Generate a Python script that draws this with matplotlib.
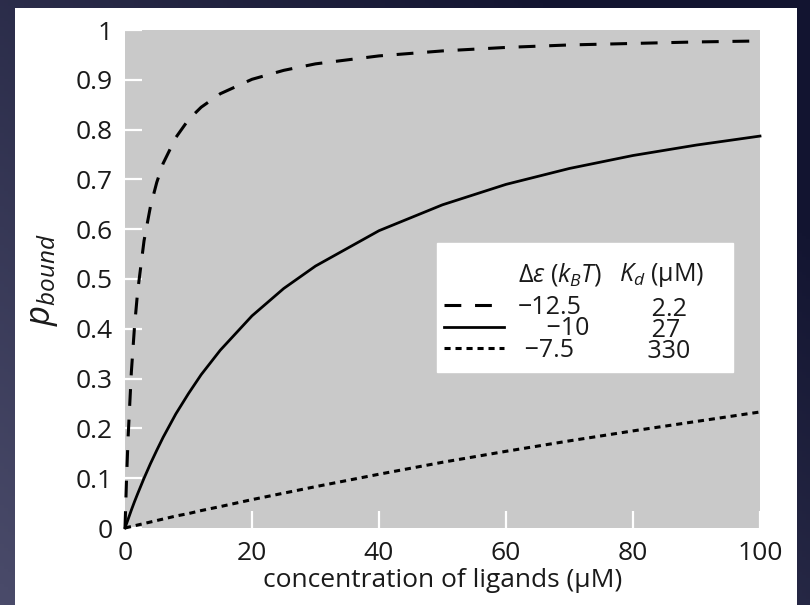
import numpy as np
import matplotlib
matplotlib.use("Agg")
import matplotlib.pyplot as plt
from matplotlib.lines import Line2D
from matplotlib.patches import Rectangle

conc = [0, 0.25, 0.5, 1, 1.5, 2, 3, 4, 5, 6, 8, 10, 12, 15, 20, 25, 30,
        40, 50, 60, 70, 80, 90, 100]
# p_bound for the three binding energies
p_strong = [0, 0.102, 0.185, 0.313, 0.405, 0.476, 0.577, 0.645, 0.694, 0.732,
            0.784, 0.820, 0.845, 0.872, 0.901, 0.919, 0.932, 0.948, 0.958,
            0.965, 0.970, 0.973, 0.976, 0.978]
p_mid = [0, 0.009, 0.018, 0.036, 0.053, 0.069, 0.100, 0.129, 0.156, 0.182,
         0.229, 0.270, 0.308, 0.357, 0.426, 0.481, 0.526, 0.597, 0.649,
         0.690, 0.722, 0.748, 0.769, 0.787]
p_weak = [0, 0.0008, 0.0015, 0.003, 0.0045, 0.006, 0.009, 0.012, 0.015,
          0.018, 0.024, 0.029, 0.035, 0.043, 0.057, 0.070, 0.083, 0.108,
          0.132, 0.154, 0.175, 0.195, 0.214, 0.233]

# legend table (figure/thin spaces roughly centre the columns)
de_header = r"$\Delta\varepsilon$ ($k_BT$)"
kd_header = r"$K_d$ (μM)"
de_vals = ["−12.5", "\u2007\u2007−10", "\u2008−7.5"]
kd_vals = ["\u2007\u2007\u20092.2", "\u2007\u2007\u200927", "\u2007\u2007330\u2007\u2007\u2008"]

xticks = [0, 20, 40, 60, 80, 100]
yticks = [0, 0.1, 0.2, 0.3, 0.4, 0.5, 0.6, 0.7, 0.8, 0.9, 1]
ytick_labels = ["0", "0.1", "0.2", "0.3", "0.4", "0.5", "0.6", "0.7", "0.8", "0.9", "1"]

plt.rcParams["font.family"] = ["Open Sans", "DejaVu Sans"]
plt.rcParams["mathtext.fontset"] = "custom"
plt.rcParams["mathtext.rm"] = "Open Sans"
plt.rcParams["mathtext.it"] = "Open Sans:italic"
plt.rcParams["mathtext.bf"] = "Open Sans:bold"

txt = "#1a1a1a"
fig = plt.figure(figsize=(8.1, 6.05), dpi=100)

# slide background with a dark gradient
bg = fig.add_axes([0, 0, 1, 1], zorder=-10)
gx, gy = np.meshgrid(np.linspace(0, 1, 200), np.linspace(0, 1, 200))
grad = np.clip(0.65 * gx + 0.55 * (1 - gy), 0, 1)
c_light = np.array([0x4a, 0x4b, 0x6a]) / 255
c_dark = np.array([0x12, 0x14, 0x30]) / 255
img = c_light[None, None, :] * (1 - grad[..., None]) + c_dark[None, None, :] * grad[..., None]
bg.imshow(img, aspect="auto", extent=[0, 1, 0, 1], origin="upper")
bg.axis("off")

# white card behind the chart
fig.patches.append(Rectangle((15 / 810, 0), 782 / 810, 597 / 605,
                             transform=fig.transFigure, facecolor="white",
                             edgecolor="none", zorder=-5))

ax = fig.add_axes([125 / 810, 77 / 605, 635 / 810, 498 / 605])
ax.set_facecolor("#c9c9c9")

lw = 2.2
l1, = ax.plot(conc, p_strong, color="black", lw=lw, linestyle=(0, (5.5, 4.5)),
              clip_on=False)
l2, = ax.plot(conc, p_mid, color="black", lw=lw * 0.9, clip_on=False)
l3, = ax.plot(conc, p_weak, color="black", lw=lw, linestyle=(0, (2, 1.6)),
              clip_on=False)

ax.set_xlim(0, 100)
ax.set_ylim(0, 1)
ax.set_xticks(xticks)
ax.set_yticks(yticks)
ax.set_yticklabels(ytick_labels)
for s in ax.spines.values():
    s.set_visible(False)
ax.tick_params(direction="in", length=12, width=1.6, color="white",
               labelsize=19, labelcolor=txt, pad=9)

ax.set_xlabel("concentration of ligands (μM)", fontsize=19, color=txt,
              labelpad=2)
ax.set_ylabel(r"$p_{bound}$", fontsize=25, color=txt, labelpad=11)

# legend laid out as a small table: header row, spacer row, three curves
blank = Line2D([], [], alpha=0)
handles = [blank, blank, l1, l2, l3] + [blank] * 5
labels = [de_header, " "] + de_vals + [kd_header, " "] + kd_vals
leg = ax.legend(handles, labels, ncol=2, loc="upper left",
                bbox_to_anchor=(0.491, 0.572), fontsize=18, frameon=True,
                fancybox=False, framealpha=1, edgecolor="white",
                facecolor="white", handlelength=2.4, handletextpad=0.55,
                columnspacing=-2.25, labelspacing=-0.15, borderpad=0.3,
                borderaxespad=0)
for t in leg.get_texts():
    t.set_color(txt)
# nudge the header row down, closer to the values
for t in (leg.get_texts()[0], leg.get_texts()[5]):
    t.set_y(-10)

fig.savefig("out.png", dpi=100)
